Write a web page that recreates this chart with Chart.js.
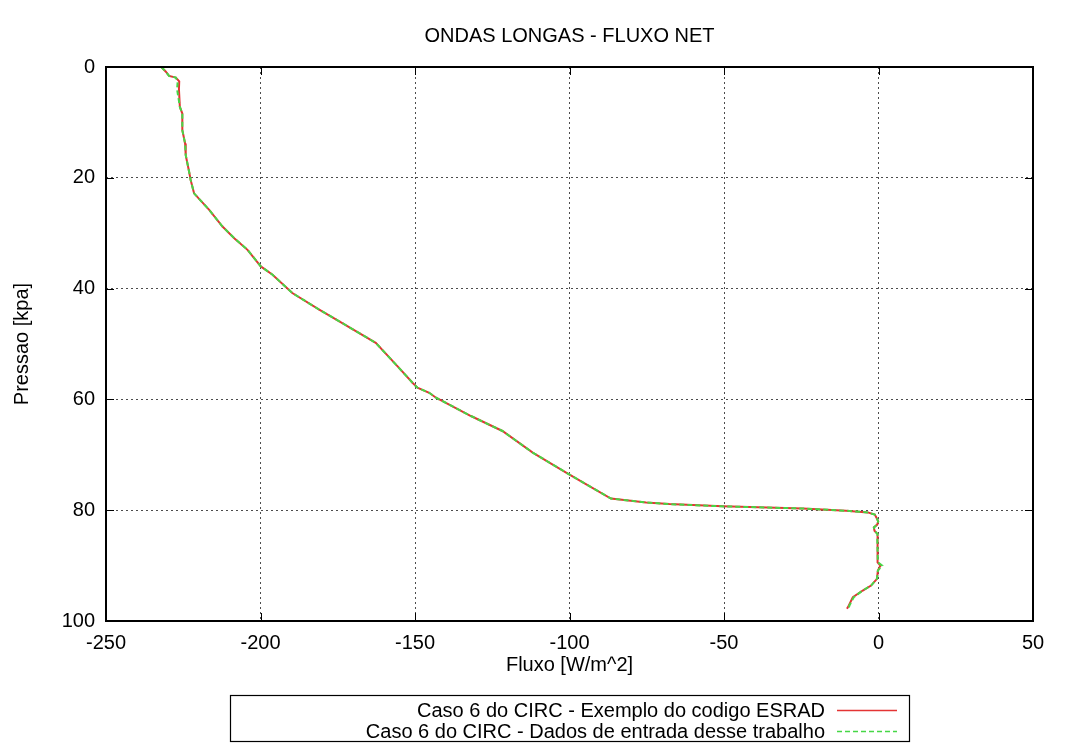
<!DOCTYPE html>
<html>
<head>
<meta charset="utf-8">
<title>Ondas longas - fluxo net</title>
<script src="https://cdn.jsdelivr.net/npm/chart.js@4/dist/chart.umd.min.js"></script>
<style>
  html, body { margin: 0; padding: 0; background: #fff; }
  canvas { display: block; }
</style>
</head>
<body>
<canvas id="fluxoChart" width="1070" height="746"></canvas>
<script>
"use strict";

// pressure levels [kPa]
const pressao = [
  0, 0.8, 1.6, 1.9, 2.6, 4.0, 7.2, 8.4, 11.4, 13.8,
  15.9, 18.9, 20.4, 22.8, 25.8, 28.8, 30.9, 33.0, 36.0, 37.5,
  40.8, 43.8, 45.9, 49.8, 54.0, 57.0, 57.9, 58.8, 59.7, 63.0,
  65.7, 69.6, 73.2, 75.3, 77.9, 78.6, 78.9, 79.3, 79.7, 80.1,
  80.4, 80.8, 81.4, 82.0, 82.6, 83.1, 83.7, 84.3, 84.9, 87.0,
  89.4, 90.0, 90.9, 92.4, 93.6, 94.5, 95.7, 97.2, 97.8
];

// net longwave flux, ESRAD reference run [W/m^2]
const fluxoEsrad = [
  -232.1, -230.7, -229.6, -227.4, -226.3, -226.4, -226.1, -225.3, -225.3, -224.4,
  -224.2, -223.1, -222.6, -221.5, -216.6, -212.3, -208.5, -204.2, -199.9, -196.1,
  -189.7, -181.0, -174.5, -162.7, -155.7, -150.8, -149.2, -145.4, -143.2, -131.9,
  -121.7, -111.9, -101.1, -94.7, -86.6, -75.2, -67.7, -50.4, -24.5, -10.5,
  -3.5, -1.2, -0.6, -0.1, -0.4, -1.5, -1.3, -0.3, -0.4, -0.3,
  -0.2, 0.6, -0.2, -0.5, -2.4, -5.1, -8.3, -9.6, -10.2
];

// net longwave flux, this work's input data [W/m^2]
const fluxoDados = [
  -232.1, -230.7, -229.6, -227.4, -226.8, -227.0, -226.1, -225.3, -225.3, -224.4,
  -224.2, -223.1, -222.6, -221.5, -216.6, -212.3, -208.5, -204.2, -199.9, -196.1,
  -189.7, -181.0, -174.5, -162.7, -155.7, -150.8, -149.2, -145.4, -143.2, -131.9,
  -121.7, -111.9, -101.1, -94.7, -86.6, -75.2, -67.7, -50.9, -24.0, -10.5,
  -3.5, -1.2, -0.6, -0.1, -0.4, -1.5, -1.3, -0.3, -0.4, -0.3,
  -0.2, 1.2, -0.2, -0.5, -2.4, -5.1, -8.0, -9.4, -9.7
];

const xTicks = { min: -250, max: 50, step: 50 };
const yTicks = { min: 0, max: 100, step: 20 };

const labelEsrad = "Caso 6 do CIRC - Exemplo do codigo ESRAD";
const labelDados = "Caso 6 do CIRC - Dados de entrada desse trabalho";

const FONT = { family: '"Liberation Sans", Arial, sans-serif', size: 20, weight: "normal" };

// black frame plus short inward tick marks on all four sides
const framePlugin = {
  id: "frame",
  afterDatasetsDraw(chart) {
    const { ctx, chartArea: a, scales } = chart;
    const len = 8;
    ctx.save();
    ctx.strokeStyle = "#000";
    ctx.lineWidth = 1;
    ctx.beginPath();
    scales.x.ticks.forEach((t) => {
      const px = Math.round(scales.x.getPixelForValue(t.value)) + 0.5;
      ctx.moveTo(px, a.bottom);
      ctx.lineTo(px, a.bottom - len);
      ctx.moveTo(px, a.top);
      ctx.lineTo(px, a.top + len);
    });
    scales.y.ticks.forEach((t) => {
      const py = Math.round(scales.y.getPixelForValue(t.value)) + 0.5;
      ctx.moveTo(a.left, py);
      ctx.lineTo(a.left + len, py);
      ctx.moveTo(a.right, py);
      ctx.lineTo(a.right - len, py);
    });
    ctx.stroke();
    ctx.lineWidth = 2;
    ctx.strokeRect(a.left, a.top, a.right - a.left, a.bottom - a.top);
    ctx.restore();
  },
};

// gnuplot-style key under the x axis title: text right-aligned, sample line on the right
const keyPlugin = {
  id: "key",
  afterDraw(chart) {
    const { ctx } = chart;
    const box = { left: 230, top: 695, right: 909, bottom: 741 };
    const textRight = 825;
    const sample = [837, 897];
    const rows = [710, 731];
    const order = [1, 0];

    ctx.save();
    ctx.strokeStyle = "#000";
    ctx.lineWidth = 1.2;
    ctx.strokeRect(box.left + 0.5, box.top + 0.5, box.right - box.left, box.bottom - box.top);

    ctx.font = `${FONT.size}px ${FONT.family}`;
    ctx.fillStyle = "#000";
    ctx.textAlign = "right";
    ctx.textBaseline = "middle";
    order.forEach((di, row) => {
      const ds = chart.data.datasets[di];
      const y = rows[row];
      ctx.fillText(ds.label, textRight, y + 1);
      ctx.beginPath();
      ctx.setLineDash(ds.borderDash || []);
      ctx.strokeStyle = ds.borderColor;
      ctx.lineWidth = 1.3;
      ctx.moveTo(sample[0], y + 0.5);
      ctx.lineTo(sample[1], y + 0.5);
      ctx.stroke();
      ctx.setLineDash([]);
    });
    ctx.restore();
  },
};

const toPoints = (xs) => pressao.map((p, i) => ({ x: xs[i], y: p }));

const initChart = () => {
  if (!window.Chart) return;
  const canvas = document.getElementById("fluxoChart");

  new Chart(canvas, {
    type: "scatter",
    data: {
      datasets: [
        {
          label: labelDados,
          data: toPoints(fluxoDados),
          showLine: true,
          borderColor: "rgb(70, 215, 70)",
          borderWidth: 2,
          borderDash: [5, 3],
          pointRadius: 0,
          order: 0,
        },
        {
          label: labelEsrad,
          data: toPoints(fluxoEsrad),
          showLine: true,
          borderColor: "rgb(228, 52, 52)",
          borderWidth: 2,
          pointRadius: 0,
          order: 1,
        },
      ],
    },
    options: {
      responsive: false,
      animation: false,
      events: [],
      layout: { padding: { left: 0, top: 0, right: 37, bottom: 69 } },
      plugins: {
        legend: { display: false },
        tooltip: { enabled: false },
        title: {
          display: true,
          text: "ONDAS LONGAS - FLUXO NET",
          color: "#000",
          font: FONT,
          fullSize: false,
          padding: { top: 24, bottom: 19 },
        },
      },
      scales: {
        x: {
          type: "linear",
          min: xTicks.min,
          max: xTicks.max,
          ticks: { stepSize: xTicks.step, color: "#000", font: FONT, padding: 10 },
          grid: { color: "rgba(0,0,0,0.7)", lineWidth: 1, drawTicks: false },
          border: { display: false, dash: [2, 3] },
          title: { display: true, text: "Fluxo [W/m^2]", color: "#000", font: FONT, padding: 0 },
          afterFit: (s) => { s.height = 56; },
        },
        y: {
          type: "linear",
          reverse: true,
          min: yTicks.min,
          max: yTicks.max,
          ticks: { stepSize: yTicks.step, color: "#000", font: FONT, padding: 11 },
          grid: { color: "rgba(0,0,0,0.7)", lineWidth: 1, drawTicks: false },
          border: { display: false, dash: [2, 3] },
          title: { display: true, text: "Pressao [kpa]", color: "#000", font: FONT, padding: { top: 10, bottom: 0 } },
          afterFit: (s) => { s.width = 106; },
        },
      },
    },
    plugins: [framePlugin, keyPlugin],
  });
};

document.addEventListener("DOMContentLoaded", initChart);
</script>
</body>
</html>
